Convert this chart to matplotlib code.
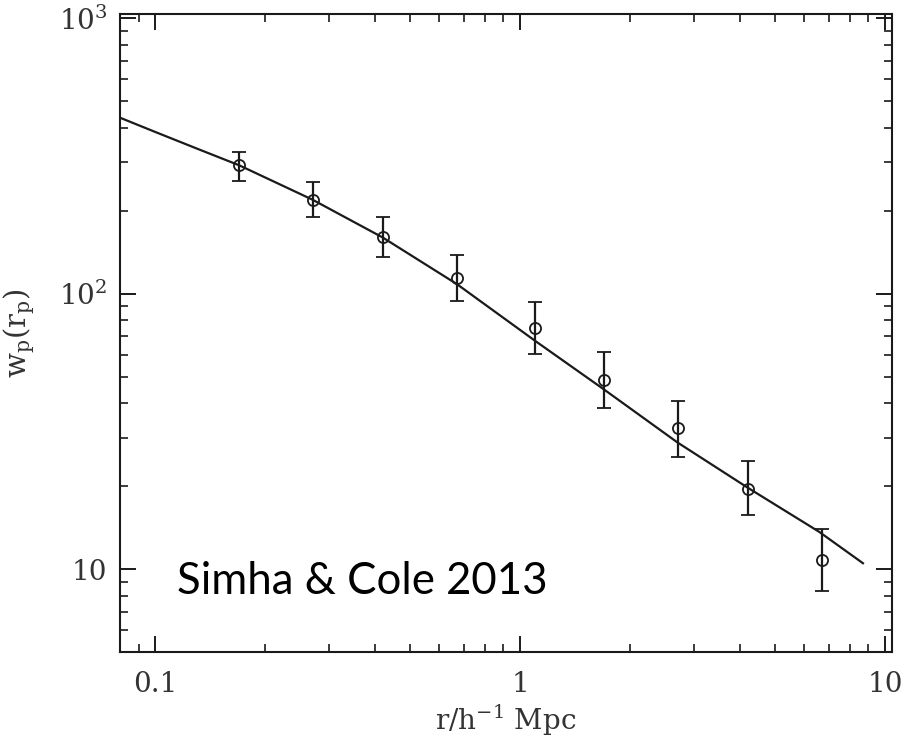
import matplotlib
matplotlib.use("Agg")
import matplotlib.pyplot as plt
from matplotlib.ticker import FixedLocator, FixedFormatter, LogLocator, NullFormatter

# Data points
r_p = [0.170, 0.270, 0.421, 0.671, 1.10, 1.70, 2.70, 4.20, 6.71]
w_p = [292, 219, 160, 114, 75.2, 48.5, 32.4, 19.6, 10.8]
w_hi = [327, 254, 190, 137.7, 93.4, 61.2, 40.9, 24.6, 14.0]
w_lo = [256, 189, 135.4, 93.8, 60.5, 38.3, 25.6, 15.7, 8.34]

# Model curve
model_r = [0.08, 0.1, 0.13, 0.17, 0.27, 0.42, 0.671, 1.10, 1.70, 2.70, 4.19, 6.6, 8.7]
model_w = [435, 386, 336, 292, 219, 159.8, 108.2, 67.3, 44.8, 28.8, 19.8, 13.65, 10.5]

xticks = [0.1, 1, 10]
xticklabels = ["0.1", "1", "10"]
yticks = [10, 100, 1000]
yticklabels = ["10", r"$10^2$", r"$10^3$"]

plt.rcParams['font.family'] = ['DejaVu Serif']
plt.rcParams['mathtext.fontset'] = 'dejavuserif'

ink = '#1a1a1a'
fig = plt.figure(figsize=(9.04, 7.36), dpi=100)
ax = fig.add_axes([120/904, 1-652/736, 772/904, 638/736])
ax.set_xscale('log')
ax.set_yscale('log')
ax.set_xlim(0.08, 10.45)
ax.set_ylim(5, 1035)

ax.plot(model_r, model_w, color=ink, lw=1.6, solid_joinstyle='round')
yerr = [[w - l for w, l in zip(w_p, w_lo)], [h - w for w, h in zip(w_p, w_hi)]]
ax.errorbar(r_p, w_p, yerr=yerr, fmt='o', mfc='none', mec=ink, ms=8, mew=1.3,
            ecolor=ink, elinewidth=1.6, capsize=5, capthick=1.6)

ax.xaxis.set_major_locator(FixedLocator(xticks))
ax.xaxis.set_major_formatter(FixedFormatter(xticklabels))
ax.xaxis.set_minor_locator(LogLocator(base=10, subs=range(2, 10)))
ax.xaxis.set_minor_formatter(NullFormatter())
ax.yaxis.set_major_locator(FixedLocator(yticks))
ax.yaxis.set_major_formatter(FixedFormatter(yticklabels))
ax.yaxis.set_minor_locator(LogLocator(base=10, subs=range(2, 10)))
ax.yaxis.set_minor_formatter(NullFormatter())

ax.tick_params(which='both', direction='in', top=True, right=True, color=ink,
               labelsize=20, labelcolor='#333333')
ax.tick_params(which='major', length=11.5, width=1.4)
ax.tick_params(which='minor', length=5.8, width=1.2)
ax.tick_params(axis='x', which='major', pad=14)
ax.tick_params(axis='y', which='major', pad=9)
for s in ax.spines.values():
    s.set_linewidth(1.5)
    s.set_color(ink)

ax.set_xlabel(r"r/h$^{-1}$ Mpc", fontsize=20, color='#333333', labelpad=3)
ax.set_ylabel(r"w$_\mathregular{p}$(r$_\mathregular{p}$)", fontsize=21, color='#333333', labelpad=16)

ax.text(0.1144, 8.12, "Simha & Cole 2013", family=['Lato', 'DejaVu Sans'], fontsize=31.5,
        color='black', va='baseline', ha='left')

fig.savefig("out.png", dpi=100)
